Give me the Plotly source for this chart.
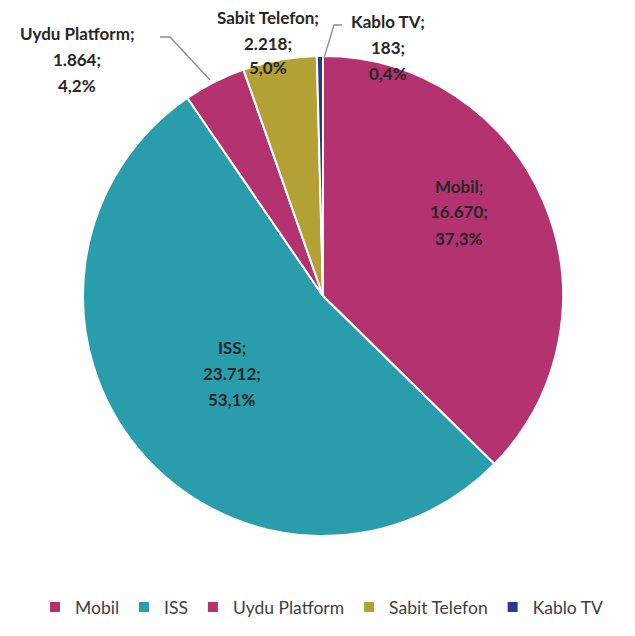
import plotly.graph_objects as go

categories = ["Mobil", "ISS", "Uydu Platform", "Sabit Telefon", "Kablo TV"]
values = [16670, 23712, 1864, 2218, 183]
colors = ["#B3326F", "#2A9DAD", "#B3326F", "#B3A135", "#2B3990"]

# page body has an 8px default margin; work in screen pixels and shift
OFF = 8
W, H = 635 - OFF, 636 - OFF

def px(x, y):
    # screen pixel -> paper coords (zero margins)
    return (x - OFF) / W, 1 - (y - OFF) / H

total = sum(values)
def label_lines(i):
    v = values[i]
    p = v / total * 100
    return [categories[i] + ";", f"{v:,}".replace(",", ".") + ";", f"{p:.1f}".replace(".", ",") + "%"]

# label anchor (center x, first line y) in screen pixels
label_pos = {0: (459, 186), 1: (232, 347), 2: (77, 34), 3: (268, 18), 4: (388, 22)}
spacing = 26

# pie occupies screen square x 83..563, y 56..536
dx0, dy1 = px(83, 56)
dx1, dy0 = px(563, 536)

fig = go.Figure(go.Pie(
    labels=categories, values=values, sort=False, direction="clockwise",
    marker=dict(colors=colors, line=dict(color="white", width=2)),
    textinfo="none", textposition="inside", hoverinfo="label+value+percent",
    domain=dict(x=[dx0, dx1], y=[dy0, dy1]),
))

annotations = []
for i in range(len(categories)):
    cx, cy = label_pos[i]
    sp = 25 if i == 3 else spacing
    for j, line in enumerate(label_lines(i)):
        xp, yp = px(cx, cy + j * sp)
        annotations.append(dict(
            x=xp, y=yp, xref="paper", yref="paper", text=f"<b>{line}</b>",
            showarrow=False, xanchor="center", yanchor="middle",
            font=dict(family="Lato", size=17, color="#262626"),
        ))

def path(points):
    pts = [px(x, y) for x, y in points]
    return "M " + " L ".join(f"{a},{b}" for a, b in pts)

shapes = [
    dict(type="path", xref="paper", yref="paper", path=path([(160, 37), (170, 37), (210, 80)]),
         line=dict(color="#8C8C8C", width=1.3)),
    dict(type="path", xref="paper", yref="paper", path=path([(342, 25), (334, 25), (324, 58)]),
         line=dict(color="#8C8C8C", width=1.3)),
]

lx, ly = px(322, 607)
fig.update_layout(
    width=W, height=H,
    margin=dict(l=0, r=0, t=0, b=0, autoexpand=False),
    paper_bgcolor="white", plot_bgcolor="white",
    annotations=annotations, shapes=shapes,
    showlegend=True,
    legend=dict(orientation="h", x=lx, xanchor="center", y=ly, yanchor="middle",
                font=dict(family="Lato", size=17.5, color="#404040"), itemwidth=30,
                traceorder="normal"),
)

fig.write_html("out.html")
